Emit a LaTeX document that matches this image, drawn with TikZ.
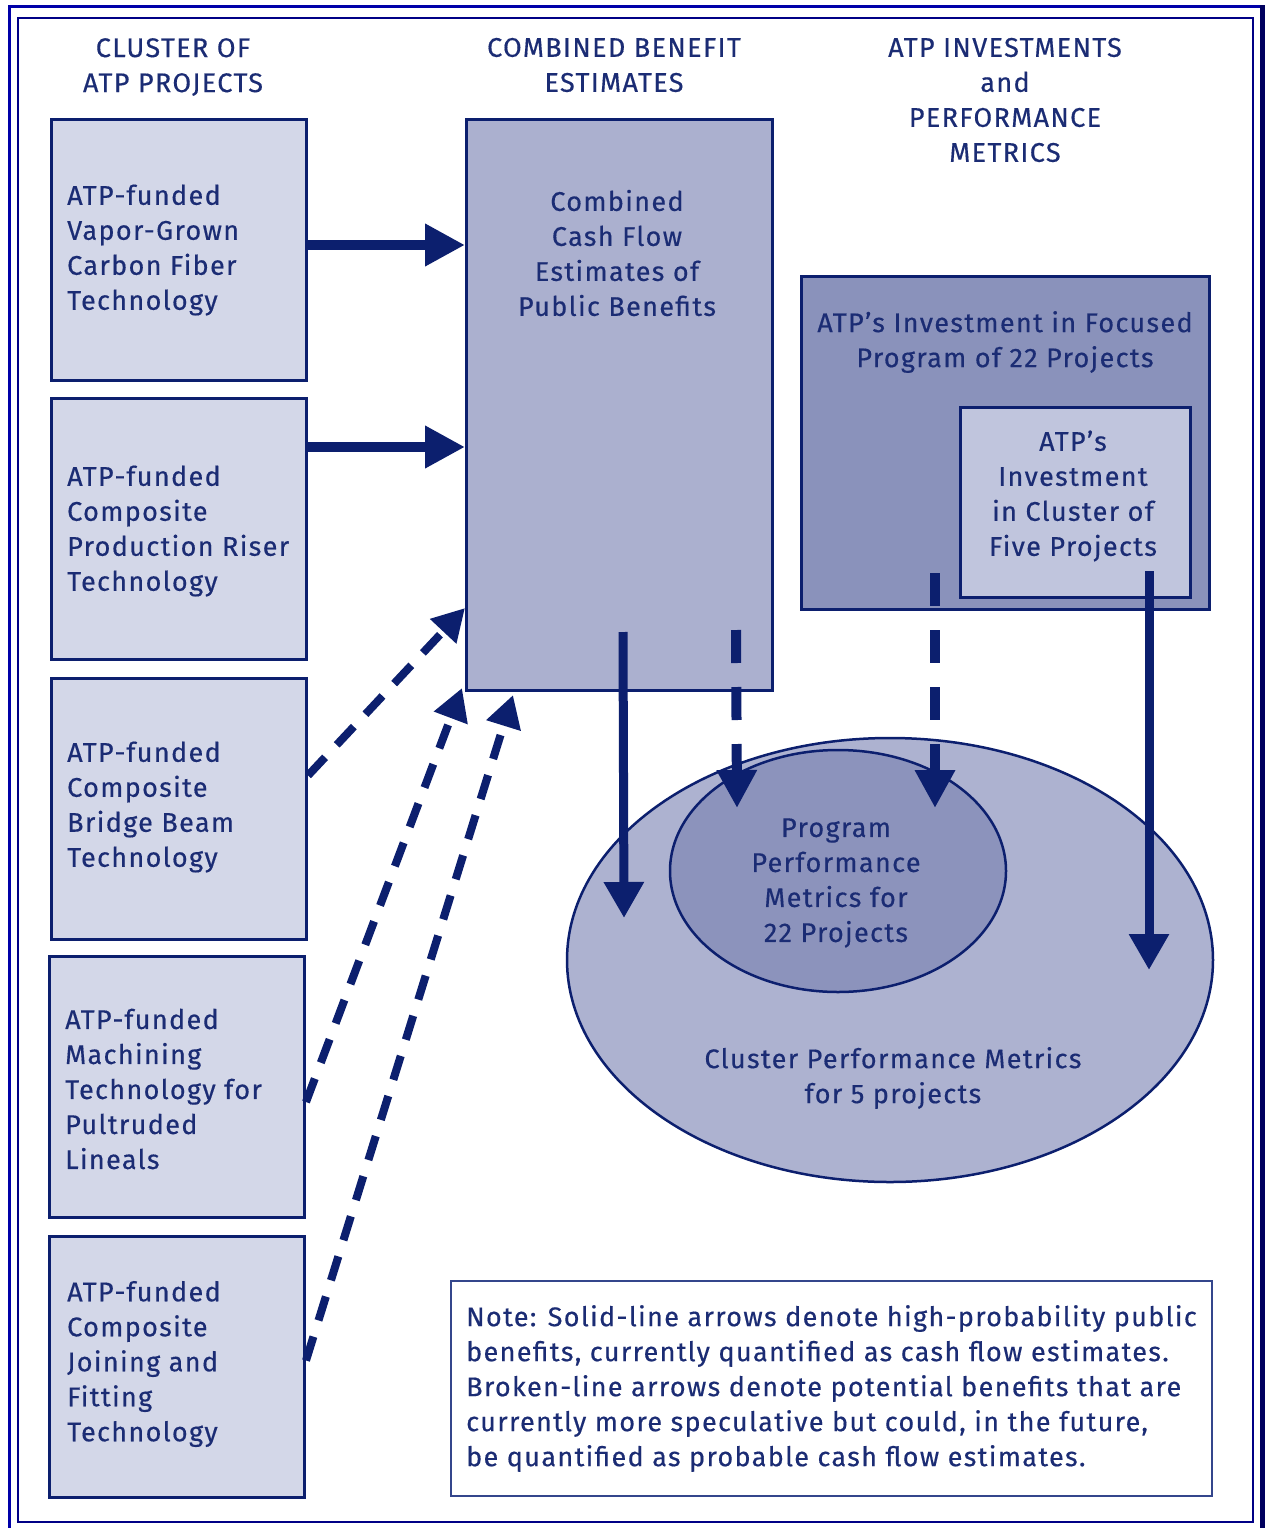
\documentclass[tikz,border=0pt]{standalone}
\usepackage{fontspec}
\setmainfont{Fira Sans}[LetterSpace=5, FakeBold=0.4]
\usetikzlibrary{arrows.meta}
\definecolor{navy}{HTML}{0C1F6E}
\definecolor{txt}{HTML}{1B2C74}
\definecolor{lightbox}{HTML}{D3D7E8}
\definecolor{midbox}{HTML}{ABB0CF}
\definecolor{darkbox}{HTML}{8A92BB}
\definecolor{innerbox}{HTML}{C0C5DD}
\definecolor{bigell}{HTML}{ADB2D0}
\definecolor{smallell}{HTML}{8C93BC}
\definecolor{frameblue}{HTML}{0000A8}
\definecolor{framedark}{HTML}{00005E}
\definecolor{noteline}{HTML}{34468C}
\begin{document}
\begin{tikzpicture}[x=1pt,y=-1pt,
  proj/.style={draw=navy, line width=3pt, fill=lightbox, minimum width=255pt, minimum height=261pt, inner sep=0pt},
  lbl/.style={text=txt, font=\fontsize{27}{35}\selectfont, align=left, inner sep=0pt},
  clbl/.style={text=txt, font=\fontsize{27}{35}\selectfont, align=center, inner sep=0pt},
  solidarrow/.style={draw=navy, line width=10pt, -{Triangle[length=40pt,width=40pt]}},
  vsolid/.style={draw=navy, line width=9pt, -{Triangle[length=36pt,width=38pt]}},
  slantdash/.style={draw=navy, line width=8pt, dash pattern=on 25pt off 17pt, -{Triangle[length=32pt,width=34pt]}},
  vdash/.style={draw=navy, line width=10pt, dash pattern=on 33pt off 24pt, -{Triangle[length=38pt,width=38pt]}},
]
\useasboundingbox (0,0) rectangle (1268,1528);
\fill[white] (0,0) rectangle (1268,1528);
% frame
\draw[frameblue, line width=3pt] (9,1528) -- (9,7) -- (1262,7);
\draw[framedark, line width=5pt] (1262,5.5) -- (1262,1528);
\draw[frameblue!80!black, line width=2pt] (18,18) rectangle (1253,1522);

% headers
\node[clbl] (h1) at (173,67) {CLUSTER OF\\ATP PROJECTS};
\node[clbl] (h2) at (614,65) {COMBINED BENEFIT\\ESTIMATES};
\node[clbl] (h3) at (1005,100) {ATP INVESTMENTS\\and\\PERFORMANCE\\METRICS};

% project boxes
\node[proj] (b1) at (179,250) {};
\node[proj] (b2) at (179,529) {};
\node[proj] (b3) at (179,808.5) {};
\node[proj] (b4) at (177,1087) {};
\node[proj] (b5) at (177,1366.5) {};
\node[lbl, anchor=west] (t1) at (67,250) {ATP-funded\\Vapor-Grown\\Carbon Fiber\\Technology};
\node[lbl, anchor=west] (t2) at (67,531) {ATP-funded\\Composite\\Production Riser\\Technology};
\node[lbl, anchor=west] (t3) at (67,807) {ATP-funded\\Composite\\Bridge Beam\\Technology};
\node[lbl, anchor=west] (t4) at (65,1089) {ATP-funded\\Machining\\Technology for\\Pultruded\\Lineals};
\node[lbl, anchor=west] (t5) at (67,1364) {ATP-funded\\Composite\\Joining and\\Fitting\\Technology};

% combined box
\node[draw=navy, line width=3pt, fill=midbox, minimum width=306pt, minimum height=571pt, inner sep=0pt] (cb) at (619.5,405) {};
\node[clbl] (cbt) at (617,253) {Combined\\Cash Flow\\Estimates of\\Public Benefits};

% investment boxes
\node[draw=navy, line width=3pt, fill=darkbox, minimum width=408pt, minimum height=333pt, inner sep=0pt] (rb) at (1005.5,443) {};
\node[clbl] (rbt) at (1005,342) {ATP’s Investment in Focused\\Program of 22 Projects};
\node[draw=navy, line width=3pt, fill=innerbox, minimum width=230pt, minimum height=190pt, inner sep=0pt] (ib) at (1075.5,502.5) {};
\node[clbl] (ibt) at (1073,496) {ATP’s\\Investment\\in Cluster of\\Five Projects};

% ellipses
\draw[navy, line width=2.5pt, fill=bigell] (890,960) ellipse [x radius=323pt, y radius=222pt];
\node[inner sep=0pt, minimum width=646pt, minimum height=444pt] (bigE) at (890,960) {};
\draw[navy, line width=2.5pt, fill=smallell] (838,871) ellipse [x radius=168pt, y radius=121pt];
\node[inner sep=0pt, minimum width=336pt, minimum height=242pt] (smallE) at (838,871) {};
\node[clbl] (set) at (836,883) {Program\\Performance\\Metrics for\\22 Projects};
\node[clbl] (bet) at (893,1078) {Cluster Performance Metrics\\for 5 projects};

% note
\node[draw=noteline, line width=2pt, minimum width=761pt, minimum height=215pt, inner sep=0pt, text=txt, font=\fontsize{27}{35}\selectfont, align=left] (note) at (831.5,1388.5)
  {Note: Solid-line arrows denote high-probability public\\benefits, currently quantified as cash flow estimates.\\Broken-line arrows denote potential benefits that are\\currently more speculative but could, in the future,\\be quantified as probable cash flow estimates.};

% arrows from projects
\draw[solidarrow] ([yshift=5pt]b1.east) -- ([yshift=5pt]b1.east -| cb.west);
\draw[solidarrow] ([yshift=82pt]b2.east) -- ([yshift=82pt]b2.east -| cb.west);
\draw[slantdash] ([yshift=33pt]b3.east) -- ([yshift=84pt]cb.south west);
\draw[slantdash] ([yshift=-15pt]b4.east) -- ([xshift=-3pt,yshift=4pt]cb.south west);
\draw[slantdash] ([yshift=6pt]b5.east) -- ([xshift=48pt,yshift=-3pt]cb.south west);

% arrows down
\draw[vsolid] ([xshift=158pt,yshift=60pt]cb.south west) -- ([xshift=-266pt,yshift=42pt]bigE.center);
\draw[vdash] ([xshift=271pt,yshift=62pt]cb.south west) -- ([xshift=-101pt,yshift=63pt]smallE.center);
\draw[vdash] ([xshift=-70.5pt,yshift=-130pt]rb.center) -- ([xshift=97pt,yshift=63pt]smallE.center);
\draw[vsolid] ([xshift=73.5pt,yshift=-68.5pt]ib.center) -- ([xshift=259pt,yshift=-10pt]bigE.center);
\end{tikzpicture}
\end{document}
